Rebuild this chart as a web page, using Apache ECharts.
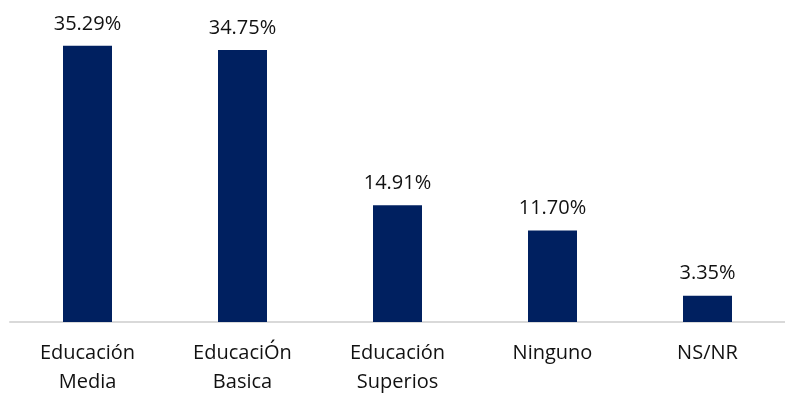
<!DOCTYPE html>
<html>
<head>
<meta charset="utf-8">
<script src="https://cdn.jsdelivr.net/npm/echarts@6/dist/echarts.min.js"></script>
<style>
  html, body { margin: 0; padding: 0; background: #ffffff; }
  #chart { width: 785px; height: 394px; }
</style>
</head>
<body>
<div id="chart"></div>
<script>
// Nivel educativo: porcentaje por categoría
const categories = ['Educación\nMedia', 'EducaciÓn\nBasica', 'Educación\nSuperios', 'Ninguno', 'NS/NR'];
const values = [35.29, 34.75, 14.91, 11.70, 3.35];

const chart = echarts.init(document.getElementById('chart'), null, { renderer: 'canvas' });
const font = '"Open Sans", "Noto Sans", sans-serif';

chart.setOption({
  animation: false,
  backgroundColor: '#ffffff',
  grid: {
    left: 10, right: 0, top: 9, bottom: 72,
    containLabel: false,
    outerBoundsMode: 'none'
  },
  xAxis: {
    type: 'category',
    data: categories,
    axisLine: { show: true, lineStyle: { color: '#d9d9d9', width: 2 } },
    axisTick: { show: false },
    axisLabel: {
      color: '#111111',
      fontFamily: font,
      fontSize: 20,
      lineHeight: 29,
      margin: 17,
      interval: 0
    }
  },
  yAxis: {
    type: 'value',
    min: 0,
    max: 40,
    show: false,
    splitLine: { show: false }
  },
  series: [{
    type: 'bar',
    data: values,
    barWidth: 49,
    itemStyle: { color: '#002060' },
    label: {
      show: true,
      position: 'top',
      distance: 12,
      color: '#111111',
      fontFamily: font,
      fontSize: 20,
      formatter: p => p.value.toFixed(2) + '%'
    }
  }]
});
</script>
</body>
</html>
